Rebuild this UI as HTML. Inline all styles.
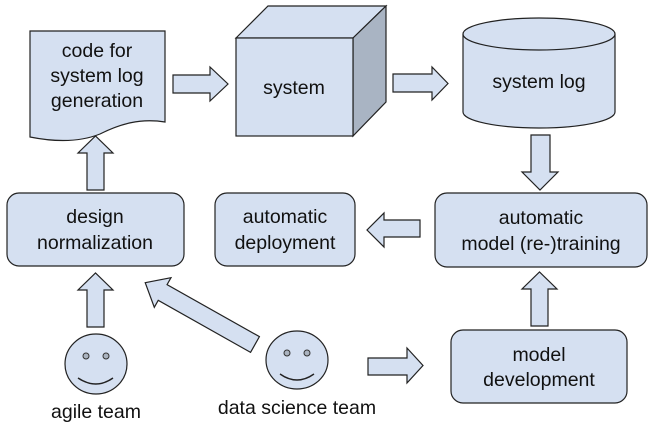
<!DOCTYPE html>
<html><head><style>
html,body{margin:0;padding:0;background:#fff;}
svg{display:block;}
text{font-family:"Liberation Sans",Arial,sans-serif;font-size:19.5px;fill:#111;text-anchor:middle;}
</style></head><body>
<svg width="653" height="426" viewBox="0 0 653 426" xmlns="http://www.w3.org/2000/svg">
<g stroke="#222" stroke-width="1.2" fill="#d5e0f1" stroke-linejoin="miter">
<path d="M30,31 H165 V122 C140,118 120,124 100,134 C80,142 55,142 30,137 Z"/>
<path d="M236,38 L268,6 H386 L353,38 Z"/>
<path d="M353,38 L386,6 V102 L353,136 Z" fill="#a9b4c3"/>
<rect x="236" y="38" width="117" height="98"/>
<path d="M463,34 V112 A76,16 0 0 0 615,112 V34"/>
<ellipse cx="539" cy="34" rx="76" ry="16"/>
<rect x="7" y="193" width="177" height="73" rx="12"/>
<rect x="215" y="193" width="140" height="73" rx="12"/>
<rect x="435" y="193" width="212" height="74" rx="12"/>
<rect x="451" y="330" width="176" height="73" rx="12"/>
<path d="M173,75 H210 V67 L228,84 L210,101 V93 H173 Z"/>
<path d="M393,74 H432 V67 L448,83.5 L432,100 V92 H393 Z"/>
<path d="M531,135 H550 V172 H558 L540,190 L522,172 H531 Z"/>
<path d="M420,220 H384 V213 L367,230 L384,247 V237 H420 Z"/>
<path d="M87,190 V153 H78 L95.5,136 L113,153 H104 V190 Z"/>
<path d="M87,327 V290 H78 L95.5,273 L113,290 H104 V327 Z"/>
<path d="M531,326 V289 H522 L539.5,272 L557,289 H548 V326 Z"/>
<path d="M368,358 H407 V348 L423,365.5 L407,383 V375 H368 Z"/>
<g transform="translate(255,344.5) rotate(209.4)">
<path d="M0,-9 H106 V-17 L126,0 L106,17 V9 H0 Z"/>
</g>
<ellipse cx="96" cy="364" rx="31" ry="30"/>
<ellipse cx="297" cy="360" rx="31" ry="29"/>
</g>
<g fill="#aab3bf" stroke="#333" stroke-width="1">
<circle cx="86" cy="356" r="3"/><circle cx="106" cy="356" r="3"/>
<circle cx="287" cy="353" r="3"/><circle cx="307" cy="353" r="3"/>
</g>
<g fill="none" stroke="#222" stroke-width="1.4">
<path d="M78,378 Q96,390 113,378"/>
<path d="M280,374 Q297,386 314,374"/>
</g>
<text x="97" y="57">code for</text>
<text x="97" y="82">system log</text>
<text x="97" y="107">generation</text>
<text x="294" y="94">system</text>
<text x="539" y="88">system log</text>
<text x="95" y="223">design</text>
<text x="95" y="249">normalization</text>
<text x="285" y="223">automatic</text>
<text x="285" y="249">deployment</text>
<text x="541" y="224">automatic</text>
<text x="541" y="250">model (re-)training</text>
<text x="539" y="361">model</text>
<text x="539" y="386">development</text>
<text x="96" y="418">agile team</text>
<text x="297" y="414">data science team</text>
</svg>
</body></html>
